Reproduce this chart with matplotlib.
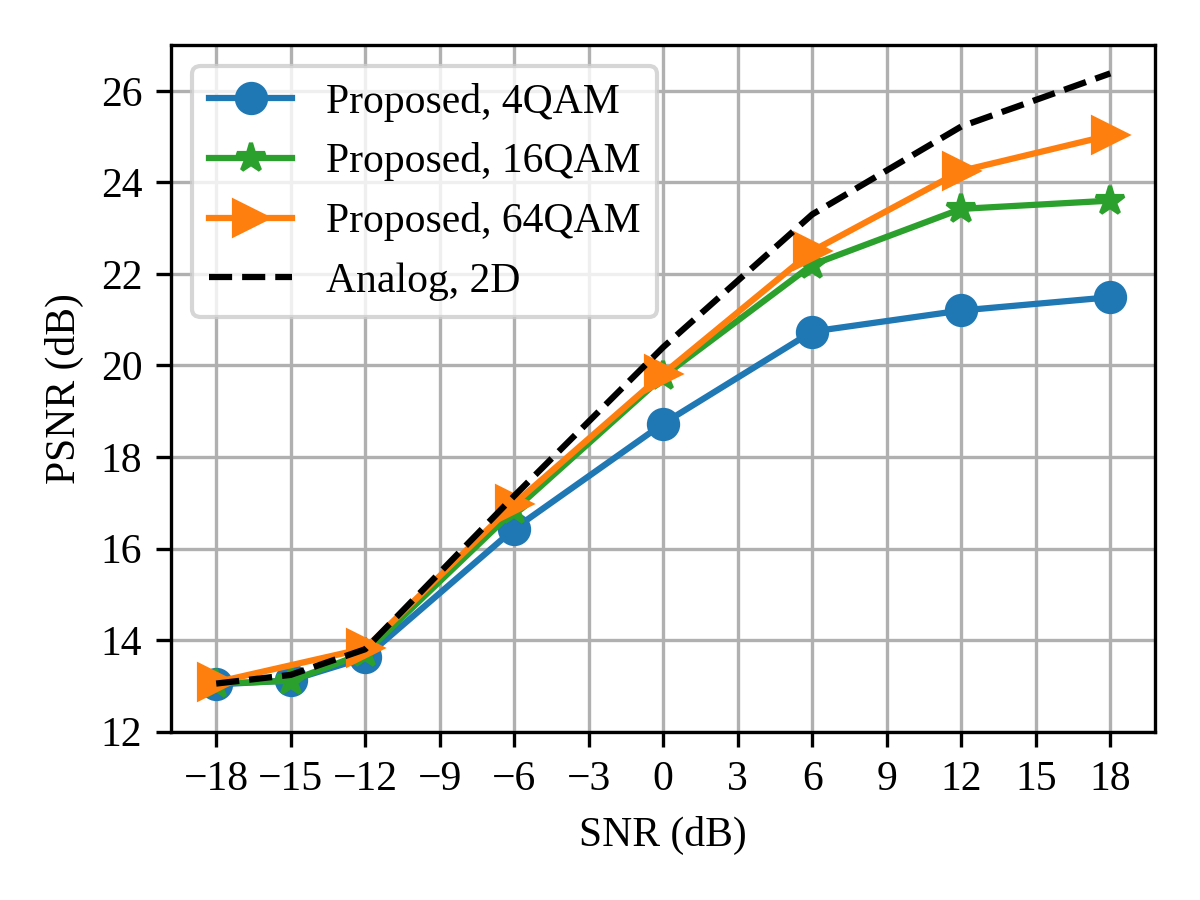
import matplotlib
matplotlib.use('Agg')
import matplotlib.pyplot as plt

plt.rcParams['font.family'] = ['Liberation Serif', 'DejaVu Serif']
plt.rcParams['font.size'] = 10

snr = [-18, -15, -12, -6, 0, 6, 12, 18]
qam4 = [13.03, 13.12, 13.62, 16.43, 18.73, 20.74, 21.20, 21.49]
qam16 = [13.05, 13.11, 13.72, 16.84, 19.76, 22.20, 23.42, 23.60]
# 64QAM has no point at -15 dB
snr64 = [-18, -12, -6, 0, 6, 12, 18]
qam64 = [13.08, 13.82, 16.98, 19.82, 22.50, 24.25, 25.03]
analog = [13.05, 13.24, 13.80, 17.15, 20.40, 23.30, 25.22, 26.38]

xticks = [-18, -15, -12, -9, -6, -3, 0, 3, 6, 9, 12, 15, 18]

fig, ax = plt.subplots(figsize=(4, 3), dpi=300)
ax.plot(snr, qam4, 'o-', color='tab:blue', markersize=7, label='Proposed, 4QAM')
ax.plot(snr, qam16, '*-', color='tab:green', markersize=7, label='Proposed, 16QAM')
ax.plot(snr64, qam64, '>-', color='tab:orange', markersize=8, label='Proposed, 64QAM')
ax.plot(snr, analog, 'k--', label='Analog, 2D')
ax.set_xticks(xticks)
ax.set_yticks(range(12, 27, 2))
ax.set_ylim(12, 27)
ax.set_xlabel('SNR (dB)')
ax.set_ylabel('PSNR (dB)')
ax.grid(True)
ax.legend(loc='upper left')
fig.tight_layout()
fig.savefig('out.png')
